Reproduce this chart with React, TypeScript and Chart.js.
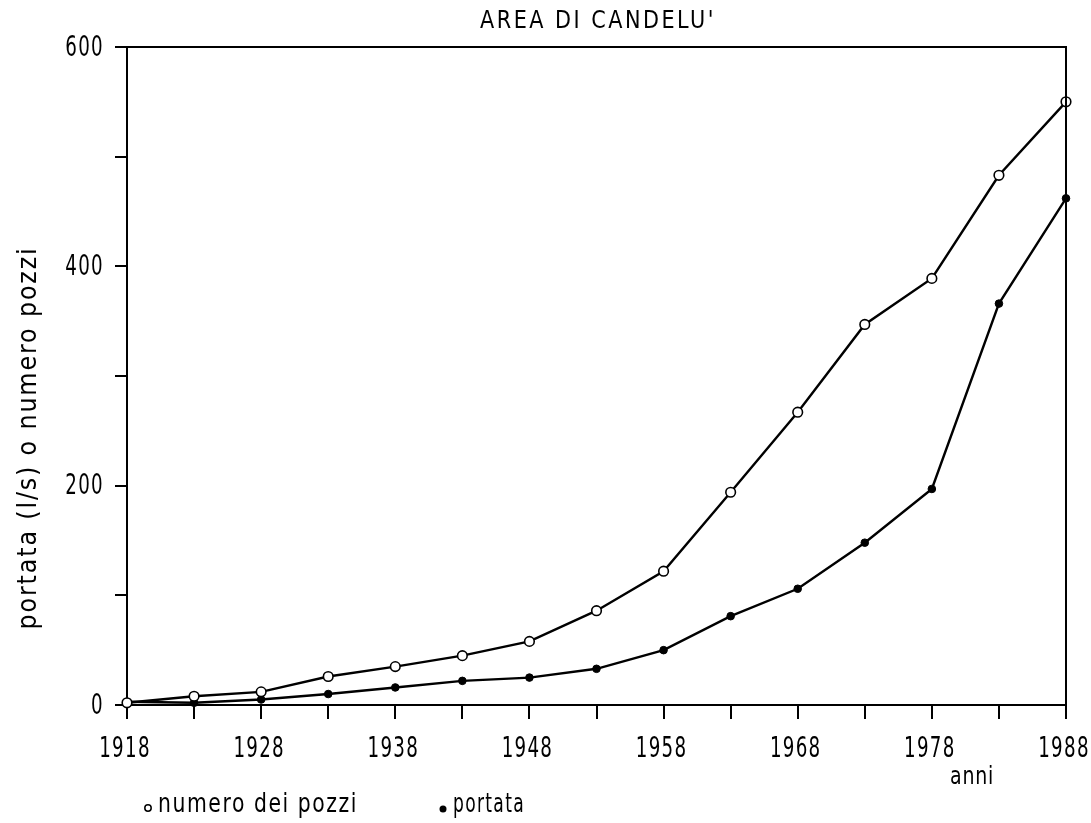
import React, { useEffect, useRef } from "react";
import { Chart, registerables } from "chart.js";

Chart.register(...registerables);

const years = [1918, 1923, 1928, 1933, 1938, 1943, 1948, 1953, 1958, 1963, 1968, 1973, 1978, 1983, 1988];
const numeroPozzi = [2, 8, 12, 26, 35, 45, 58, 86, 122, 194, 267, 347, 389, 483, 550];
const portata = [3, 2, 5, 10, 16, 22, 25, 33, 50, 81, 106, 148, 197, 366, 462];
const xTickValues = [1918, 1923, 1928, 1933, 1938, 1943, 1948, 1953, 1958, 1963, 1968, 1973, 1978, 1983, 1988];
const xLabelValues = [1918, 1928, 1938, 1948, 1958, 1968, 1978, 1988];
const yLabelValues = [0, 200, 400, 600];
const title = "AREA DI CANDELU'";
const yTitle = "portata (l/s) o numero pozzi";
const xTitle = "anni";
const legendOpen = "numero dei pozzi";
const legendFilled = "portata";

const FAMILY = '"DejaVu Sans", sans-serif';

function drawText(
  ctx: CanvasRenderingContext2D,
  text: string,
  x: number,
  y: number,
  size: number,
  opts: { width?: number; sx?: number; align?: CanvasTextAlign; spacing?: number; rotate?: number }
) {
  ctx.save();
  ctx.font = `${size}px ${FAMILY}`;
  (ctx as any).letterSpacing = `${opts.spacing ?? 0}px`;
  ctx.textAlign = opts.align ?? "center";
  ctx.textBaseline = "middle";
  ctx.fillStyle = "#000";
  const w0 = ctx.measureText(text).width;
  const sx = opts.width ? opts.width / w0 : opts.sx ?? 1;
  ctx.translate(x, y);
  if (opts.rotate) ctx.rotate(opts.rotate);
  ctx.scale(sx, 1);
  ctx.fillText(text, 0, 0);
  ctx.restore();
}

const textPlugin = {
  id: "customText",
  afterDraw(chart: any) {
    const ctx = chart.ctx as CanvasRenderingContext2D;
    const a = chart.chartArea;
    const xs = chart.scales.x;
    const ys = chart.scales.y;
    ctx.save();
    ctx.strokeStyle = "#000";
    ctx.lineWidth = 2;
    ctx.beginPath();
    ctx.moveTo(a.left, a.top);
    ctx.lineTo(a.right, a.top);
    ctx.lineTo(a.right, a.bottom);
    ctx.stroke();
    ctx.restore();

    // tick labels
    for (const v of xLabelValues) {
      drawText(ctx, String(v), xs.getPixelForValue(v) - 2, 749, 29, { sx: 0.63, spacing: 2 });
    }
    for (const v of yLabelValues) {
      drawText(ctx, String(v), 104, ys.getPixelForValue(v) + 1, 29, { sx: 0.63, spacing: 2, align: "right" });
    }
    // title
    drawText(ctx, title, 598, 21, 25, { width: 236, spacing: 3 });
    // y title
    drawText(ctx, yTitle, 29, 438, 26, { width: 383, spacing: 2, rotate: -Math.PI / 2 });
    // x title
    drawText(ctx, xTitle, 972, 777, 25, { width: 44, spacing: 1 });
    // legend
    ctx.save();
    ctx.strokeStyle = "#000";
    ctx.fillStyle = "#000";
    ctx.lineWidth = 1.5;
    ctx.beginPath();
    ctx.arc(148, 808, 3.2, 0, Math.PI * 2);
    ctx.stroke();
    ctx.beginPath();
    ctx.arc(443, 809, 3.5, 0, Math.PI * 2);
    ctx.fill();
    ctx.restore();
    drawText(ctx, legendOpen, 158, 805, 26, { width: 200, spacing: 2, align: "left" });
    drawText(ctx, legendFilled, 453, 805, 26, { width: 72, spacing: 2, align: "left" });
  },
};

export default function App() {
  const ref = useRef<HTMLCanvasElement>(null);
  useEffect(() => {
    if (!ref.current) return;
    const chart = new Chart(ref.current, {
      type: "line",
      data: {
        datasets: [
          {
            label: legendOpen,
            data: years.map((x, i) => ({ x, y: numeroPozzi[i] })),
            borderColor: "#000",
            borderWidth: 2.4,
            pointStyle: "circle",
            pointRadius: 4.8,
            pointBorderWidth: 1.6,
            pointBackgroundColor: "#fff",
            pointBorderColor: "#000",
            tension: 0,
            clip: false as any,
          },
          {
            label: legendFilled,
            data: years.map((x, i) => ({ x, y: portata[i] })),
            borderColor: "#000",
            borderWidth: 2.4,
            pointStyle: "circle",
            pointRadius: 3.8,
            pointBorderWidth: 1,
            pointBackgroundColor: "#000",
            pointBorderColor: "#000",
            tension: 0,
            clip: false as any,
          },
        ],
      },
      options: {
        animation: false,
        responsive: false,
        devicePixelRatio: 1,
        layout: { padding: { top: 47, right: 25, left: 0, bottom: 0 } },
        plugins: { legend: { display: false }, title: { display: false }, tooltip: { enabled: false } },
        scales: {
          x: {
            type: "linear",
            min: 1918,
            max: 1988,
            afterBuildTicks: (axis: any) => {
              axis.ticks = xTickValues.map((v) => ({ value: v }));
            },
            afterFit: (scale: any) => {
              scale.height = 118;
              scale.paddingLeft = 0;
              scale.paddingRight = 0;
            },
            ticks: { display: false },
            grid: { drawOnChartArea: false, drawTicks: true, tickLength: 14, color: "#000", lineWidth: 2 },
            border: { display: true, color: "#000", width: 2 },
          },
          y: {
            type: "linear",
            min: 0,
            max: 600,
            afterFit: (scale: any) => {
              scale.width = 127;
              scale.paddingTop = 0;
              scale.paddingBottom = 0;
            },
            ticks: { display: false, stepSize: 100 },
            grid: { drawOnChartArea: false, drawTicks: true, tickLength: 12, color: "#000", lineWidth: 2 },
            border: { display: true, color: "#000", width: 2 },
          },
        },
      },
      plugins: [textPlugin],
    });
    return () => chart.destroy();
  }, []);
  return (
    <div style={{ position: "absolute", left: 0, top: 0, width: 1091, height: 823, background: "#fff" }}>
      <canvas ref={ref} width={1091} height={823} />
    </div>
  );
}
